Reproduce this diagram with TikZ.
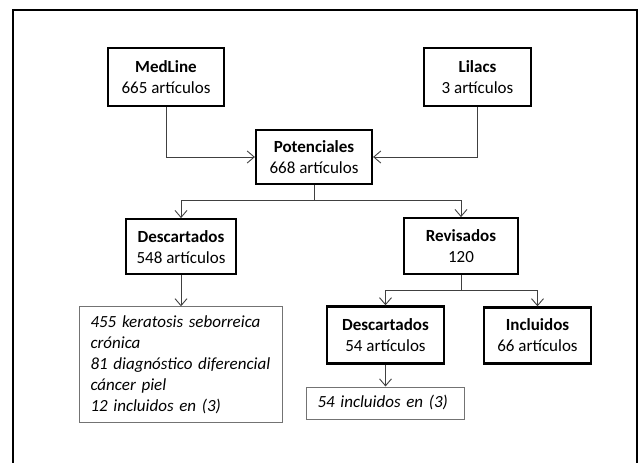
\documentclass[tikz,border=0pt]{standalone}
\usepackage{fontspec}
\setmainfont{Carlito}
\usetikzlibrary{positioning, arrows.meta}

\begin{document}
\begin{tikzpicture}[x=1pt, y=1pt, font=\fontsize{17}{21}\selectfont]
\tikzstyle{main}=[rectangle, draw=black, line width=2.2pt, align=center, inner sep=2pt]
\tikzstyle{note}=[rectangle, draw=black!55, line width=0.9pt, align=left, inner xsep=11pt, font=\fontsize{17}{21}\selectfont\itshape]
\tikzstyle{connect}=[-{Straight Barb[length=7pt,width=12pt]}, draw=black!75, line width=0.9pt]
\tikzstyle{link}=[draw=black!75, line width=0.9pt]

% 1. Frame
%%%%%%%%%%
\useasboundingbox (0,0) rectangle (643,-463);
\draw[line width=2.4pt] (13,-463) -- (13,-10) -- (637,-10) -- (637,-463);

% 2. Nodes
%%%%%%%%%%
\node[main, minimum width=116pt, minimum height=54pt] (pot) at (314,-157) {\textbf{Potenciales}\\668 artículos};
\node[main, minimum width=116pt, minimum height=58pt] (medline) [above=22pt of pot, xshift=-148pt] {\textbf{MedLine}\\665 artículos};
\node[main, minimum width=107pt, minimum height=58pt] (lilacs) [above=22pt of pot, xshift=163.5pt] {\textbf{Lilacs}\\3 artículos};
\node[main, minimum width=110pt, minimum height=55pt] (desc1) [below=33pt of pot, xshift=-133pt] {\textbf{Descartados}\\548 artículos};
\node[main, minimum width=114pt, minimum height=56pt] (revis) [below=32pt of pot, xshift=147pt] {\textbf{Revisados}\\120};
\node[note, text width=181pt, minimum height=116pt] (motivos) [below=31pt of desc1] {455 keratosis seborreica\\crónica\\81 diagnóstico diferencial\\cáncer piel\\12 incluidos en (3)};
\node[main, minimum width=117pt, minimum height=57pt] (desc2) [below=30pt of revis, xshift=-75.5pt] {\textbf{Descartados}\\54 artículos};
\node[main, minimum width=107pt, minimum height=56pt] (incl) [below=31pt of revis, xshift=76.5pt] {\textbf{Incluidos}\\66 artículos};
\node[note, text width=136pt, minimum height=32pt] (repetidos) [below=22pt of desc2] {54 incluidos en (3)};

% 3. Arrows
%%%%%%%%%%%
\draw[connect] (medline) |- (pot);
\draw[connect] (lilacs) |- (pot);
\draw[link] (pot.south) -- ++(0,-15) coordinate (split1);
\draw[connect] (split1) -| (desc1);
\draw[connect] (split1) -| (revis);
\draw[connect] (desc1) -- (motivos);
\draw[link] (revis.south) -- ++(0,-15) coordinate (split2);
\draw[connect] (split2) -| (desc2);
\draw[connect] (split2) -| (incl);
\draw[connect] (desc2) -- (repetidos);

\end{tikzpicture}
\end{document}
